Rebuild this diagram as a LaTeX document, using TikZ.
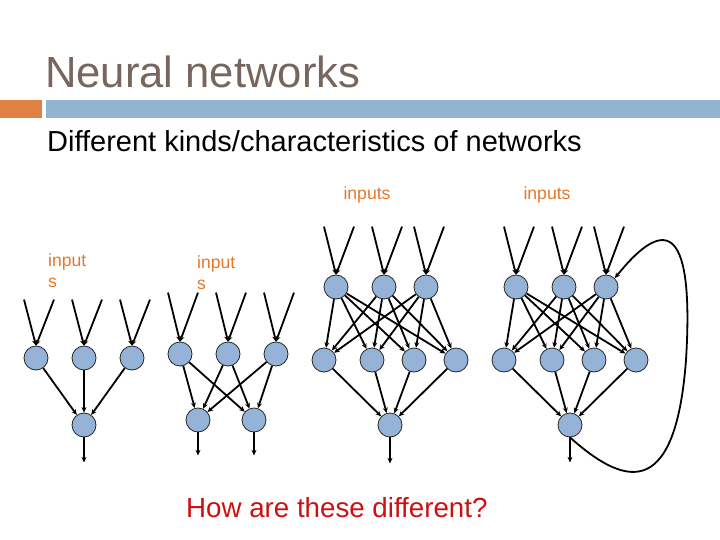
\documentclass[tikz,border=0pt]{standalone}
\usepackage{fontspec}
\setmainfont{Liberation Sans}
\usepackage{xcolor}
\usetikzlibrary{arrows.meta}

\definecolor{titlegray}{RGB}{118,102,93}
\definecolor{barorange}{RGB}{224,128,66}
\definecolor{barblue}{RGB}{147,180,208}
\definecolor{labelorange}{RGB}{226,120,44}
\definecolor{neuronblue}{RGB}{149,179,215}
\definecolor{askred}{RGB}{204,16,16}

\newcommand{\feed}[2]{%
    \draw[link] (#1.north) ++(-12,-#2) -- (#1.north);
    \draw[link] (#1.north) ++(18,-#2) -- (#1.north);}

\begin{document}
\begin{tikzpicture}[x=1pt, y=-1pt,
    neuron/.style={circle, draw=black!85, line width=0.8pt, fill=neuronblue, minimum size=24pt, inner sep=0pt},
    link/.style={line width=1.8pt, -{Stealth[length=5.5pt,width=5pt]}},
    inlabel/.style={text=labelorange, font=\fontsize{17.6}{21}\selectfont, align=left, inner sep=0pt}]
    \useasboundingbox (0,0) rectangle (720,540);
    \fill[barorange] (0,100) rectangle (42,118);
    \fill[barblue] (46,100) rectangle (720,118);
    \node[anchor=base west, inner sep=0pt, text=titlegray, font=\fontsize{43.6}{50}\selectfont] (title) at (45,88) {Neural networks};
    \node[anchor=base west, inner sep=0pt, font=\fontsize{29}{34}\selectfont] (sub) at (47,152) {Different kinds/characteristics of networks};

    % single layer
    \node[inlabel, anchor=north west] (lab1) at (48,254) {input\\s};
    \node[neuron] (a1) at (36,358) {};
    \node[neuron] (a2) at (84,358) {};
    \node[neuron] (a3) at (132,358) {};
    \node[neuron] (aout) at (84,425) {};
    \feed{a1}{46} \feed{a2}{46} \feed{a3}{46}
    \foreach \s in {a1,a2,a3} \draw[link] (\s) -- (aout);
    \draw[link] (aout.south) -- ++(0,25);

    % two outputs
    \node[inlabel, anchor=north west] (lab2) at (197,256) {input\\s};
    \node[neuron] (b1) at (180,354) {};
    \node[neuron] (b2) at (228,354) {};
    \node[neuron] (b3) at (276,354) {};
    \node[neuron] (bout1) at (198,420) {};
    \node[neuron] (bout2) at (254,420) {};
    \feed{b1}{49} \feed{b2}{49} \feed{b3}{49}
    \foreach \s in {b1,b2,b3} {
        \draw[link] (\s) -- (bout1);
        \draw[link] (\s) -- (bout2);
    }
    \draw[link] (bout1.south) -- ++(0,23);
    \draw[link] (bout2.south) -- ++(0,23);

    % hidden layer
    \node[inlabel, anchor=base] (lab3) at (367,200) {inputs};
    \node[neuron] (c1) at (336,287) {};
    \node[neuron] (c2) at (384,287) {};
    \node[neuron] (c3) at (426,287) {};
    \node[neuron] (d1) at (324,360) {};
    \node[neuron] (d2) at (372,360) {};
    \node[neuron] (d3) at (414,360) {};
    \node[neuron] (d4) at (456,360) {};
    \node[neuron] (cout) at (390,425) {};
    \feed{c1}{48} \feed{c2}{48} \feed{c3}{48}
    \foreach \s in {c1,c2,c3}
        \foreach \t in {d1,d2,d3,d4} \draw[link] (\s) -- (\t);
    \foreach \s in {d1,d2,d3,d4} \draw[link] (\s) -- (cout);
    \draw[link] (cout.south) -- ++(0,26);

    % with feedback
    \node[inlabel, anchor=base] (lab4) at (547,200) {inputs};
    \node[neuron] (e1) at (516,287) {};
    \node[neuron] (e2) at (564,287) {};
    \node[neuron] (e3) at (606,287) {};
    \node[neuron] (f1) at (504,360) {};
    \node[neuron] (f2) at (552,360) {};
    \node[neuron] (f3) at (594,360) {};
    \node[neuron] (f4) at (636,360) {};
    \node[neuron] (fout) at (570,425) {};
    \feed{e1}{48} \feed{e2}{48} \feed{e3}{48}
    \foreach \s in {e1,e2,e3}
        \foreach \t in {f1,f2,f3,f4} \draw[link] (\s) -- (\t);
    \foreach \s in {f1,f2,f3,f4} \draw[link] (\s) -- (fout);
    \draw[link] (fout.south) -- ++(0,25);
    \draw[link] (fout.south) .. controls (620,482) and (675,507) .. (686,360)
        .. controls (694,230) and (668,212) .. (e3.north east);

    \node[anchor=base west, inner sep=0pt, text=askred, font=\fontsize{27.7}{32}\selectfont] (ask) at (186,517) {How are these different?};
\end{tikzpicture}
\end{document}
